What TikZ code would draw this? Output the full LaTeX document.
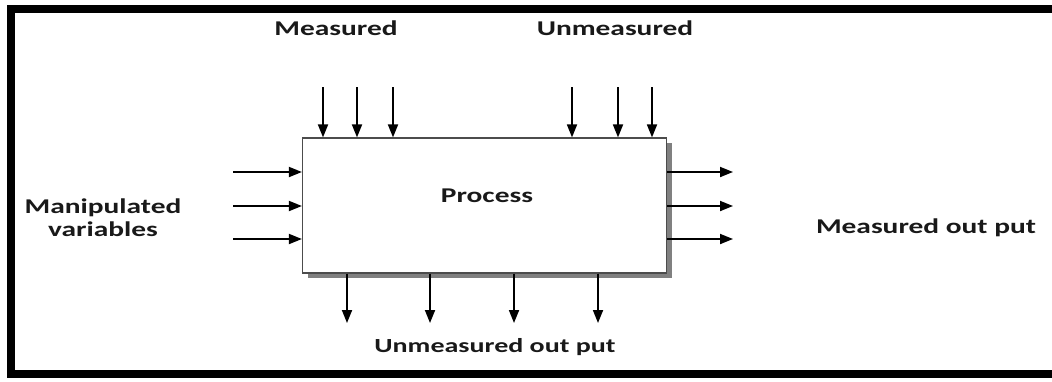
\documentclass[tikz,border=0pt]{standalone}
\usepackage{fontspec}
\setmainfont{Carlito}[FakeStretch=1.4]
\usepackage{tikz}
\usetikzlibrary{arrows.meta,shadows}

\begin{document}
\begin{tikzpicture}[x=0.5pt,y=-0.5pt]
	\tikzset{
		sig/.style={line width=0.9pt,-{Triangle[length=6.5pt,width=5pt]}},
		lbl/.style={font=\fontsize{10.5}{11.5}\selectfont\bfseries,text=black!90,inner sep=0pt,align=center},
		procbox/.style={draw=black!70,line width=0.6pt,fill=white,
			minimum width=182pt,minimum height=67.5pt,
			drop shadow={shadow xshift=2.5pt,shadow yshift=-2.5pt,fill=black!50,opacity=1}}
	}
	\useasboundingbox (0,0) rectangle (1052,381);
	\clip (0,0) rectangle (1052,381);
	% frame
	\draw [line width=4pt] (11,8.5) rectangle (1070,373.5);
	% process block
	\node [procbox] (proc) at (484.5,205.5) {};
	\node [lbl] (ptext) at (487,196) {Process};
	% disturbances on top
	\node [lbl] (meas) at (336,28) {Measured};
	\node [lbl] (unmeas) at (615,28) {Unmeasured};
	\foreach \x [count=\i] in {323,357,393} {
		\coordinate (d\i) at (\x,87);
		\draw [sig] (d\i) -- (d\i |- proc.north);
	}
	\foreach \x [count=\i] in {572,618,652} {
		\coordinate (u\i) at (\x,87);
		\draw [sig] (u\i) -- (u\i |- proc.north);
	}
	% manipulated inputs
	\node [lbl] (manip) at (103,218) {Manipulated\\variables};
	\foreach \y [count=\i] in {172,206,239} {
		\coordinate (in\i) at (233,\y);
		\draw [sig] (in\i) -- (in\i -| proc.west);
	}
	% measured outputs
	\foreach \y [count=\i] in {172,206,239} {
		\coordinate (out\i) at (733,\y);
		\draw [sig] (out\i -| proc.east) -- (out\i);
	}
	\node [lbl] (mout) at (926,228) {Measured out put};
	% unmeasured outputs
	\foreach \x [count=\i] in {347,430,514,598} {
		\coordinate (b\i) at (\x,323);
		\draw [sig] (b\i |- proc.south) -- (b\i);
	}
	\node [lbl,font=\fontsize{10}{12}\selectfont\bfseries] (uout) at (495,347) {Unmeasured out put};
\end{tikzpicture}
\end{document}
